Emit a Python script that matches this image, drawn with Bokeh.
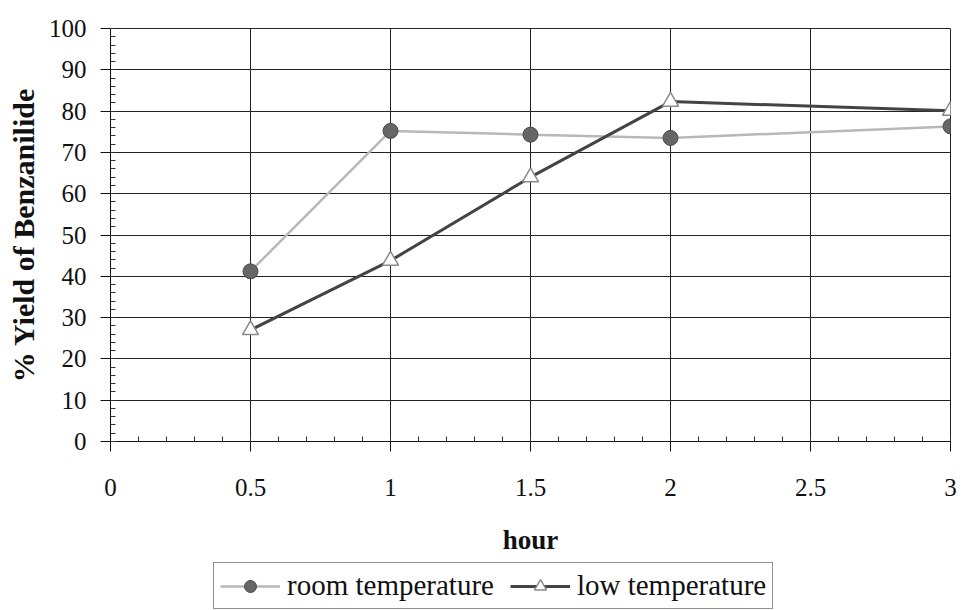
from bokeh.plotting import figure
from bokeh.layouts import column
from bokeh.models import (Range1d, FixedTicker, NumeralTickFormatter, Legend, LegendItem)
from bokeh.embed import file_html
from bokeh.resources import INLINE

# ---- data ----
hours = [0.5, 1, 1.5, 2, 3]
room_temperature = [41.2, 75.2, 74.3, 73.5, 76.3]
low_temperature = [27.0, 43.8, 64.0, 82.3, 80.1]
x_ticks = [0, 0.5, 1, 1.5, 2, 2.5, 3]
y_ticks = [0, 10, 20, 30, 40, 50, 60, 70, 80, 90, 100]
series_names = ["room temperature", "low temperature"]
x_title = "hour"
y_title = "% Yield of Benzanilide"

FONT = "Liberation Serif"

ROOM_LINE = dict(line_color="#b8b8b8", line_width=2.5)
ROOM_MARK = dict(marker="circle", size=15, fill_color="#666666",
                 line_color="#4a4a4a", line_width=1)
LOW_LINE = dict(line_color="#444444", line_width=3)
LOW_MARK = dict(marker="triangle", size=16, fill_color="white",
                line_color="#8a8a8a", line_width=1.5)

p = figure(width=962, height=560, output_backend="svg", toolbar_location=None,
           x_range=Range1d(0, 3), y_range=Range1d(0, 100),
           min_border_left=110, min_border_right=12, min_border_top=28,
           min_border_bottom=119)
p.background_fill_color = "white"
p.border_fill_color = "white"
p.outline_line_color = "#222222"

# axes
xa = p.xaxis[0]
ya = p.yaxis[0]
xa.ticker = FixedTicker(ticks=x_ticks,
                        minor_ticks=[i / 10 for i in range(0, 31)])
ya.ticker = FixedTicker(ticks=y_ticks, minor_ticks=list(range(0, 101, 2)))
xa.formatter = NumeralTickFormatter(format="0.[0]")
for ax in (xa, ya):
    ax.axis_line_color = "#111111"
    ax.major_tick_line_color = "#111111"
    ax.minor_tick_line_color = "#333333"
    ax.major_tick_out = 10
    ax.major_tick_in = 0
    ax.minor_tick_in = 5
    ax.minor_tick_out = 0
    ax.major_label_text_font = FONT
    ax.major_label_text_font_size = "25px"
    ax.major_label_text_color = "#111111"
    ax.axis_label_text_font = FONT
    ax.axis_label_text_font_style = "bold"
    ax.axis_label_text_color = "#111111"
xa.axis_label_text_font_size = "27px"
ya.axis_label_text_font_size = "30px"
xa.major_label_standoff = 27
ya.major_label_standoff = 14
xa.axis_label = x_title
ya.axis_label = y_title
xa.axis_label_standoff = 26
ya.axis_label_standoff = 6

p.xgrid.grid_line_color = "#222222"
p.ygrid.grid_line_color = "#222222"
p.xgrid.grid_line_width = 1
p.ygrid.grid_line_width = 1

# series
p.line(hours, room_temperature, **ROOM_LINE)
p.scatter(hours, room_temperature, **ROOM_MARK)
p.line(hours, low_temperature, **LOW_LINE)
p.scatter(hours, low_temperature, **LOW_MARK)

# legend strip below the chart (same series, drawn outside its visible range)
q = figure(width=962, height=50, output_backend="svg", toolbar_location=None,
           x_range=Range1d(100, 101), y_range=Range1d(1000, 1001),
           min_border=0, x_axis_type=None, y_axis_type=None)
q.grid.visible = False
q.outline_line_color = None
q.background_fill_color = "white"
q.border_fill_color = "white"
e1l = q.line(hours, room_temperature, **ROOM_LINE)
e1m = q.scatter(hours, room_temperature, **ROOM_MARK)
e2l = q.line(hours, low_temperature, **LOW_LINE)
e2m = q.scatter(hours, low_temperature, **LOW_MARK)

legend = Legend(items=[LegendItem(label=series_names[0], renderers=[e1l, e1m]),
                       LegendItem(label=series_names[1], renderers=[e2l, e2m])],
                orientation="horizontal", location=(103, 1),
                label_text_font=FONT, label_text_font_size="29px",
                label_text_color="#111111",
                glyph_width=60, glyph_height=30, label_standoff=7,
                padding=6, spacing=16, margin=0,
                border_line_color="#222222", border_line_width=1,
                background_fill_color="white", background_fill_alpha=1)
q.add_layout(legend, "center")

layout = column(p, q, spacing=0)
open("out.html", "w").write(file_html(layout, INLINE))
